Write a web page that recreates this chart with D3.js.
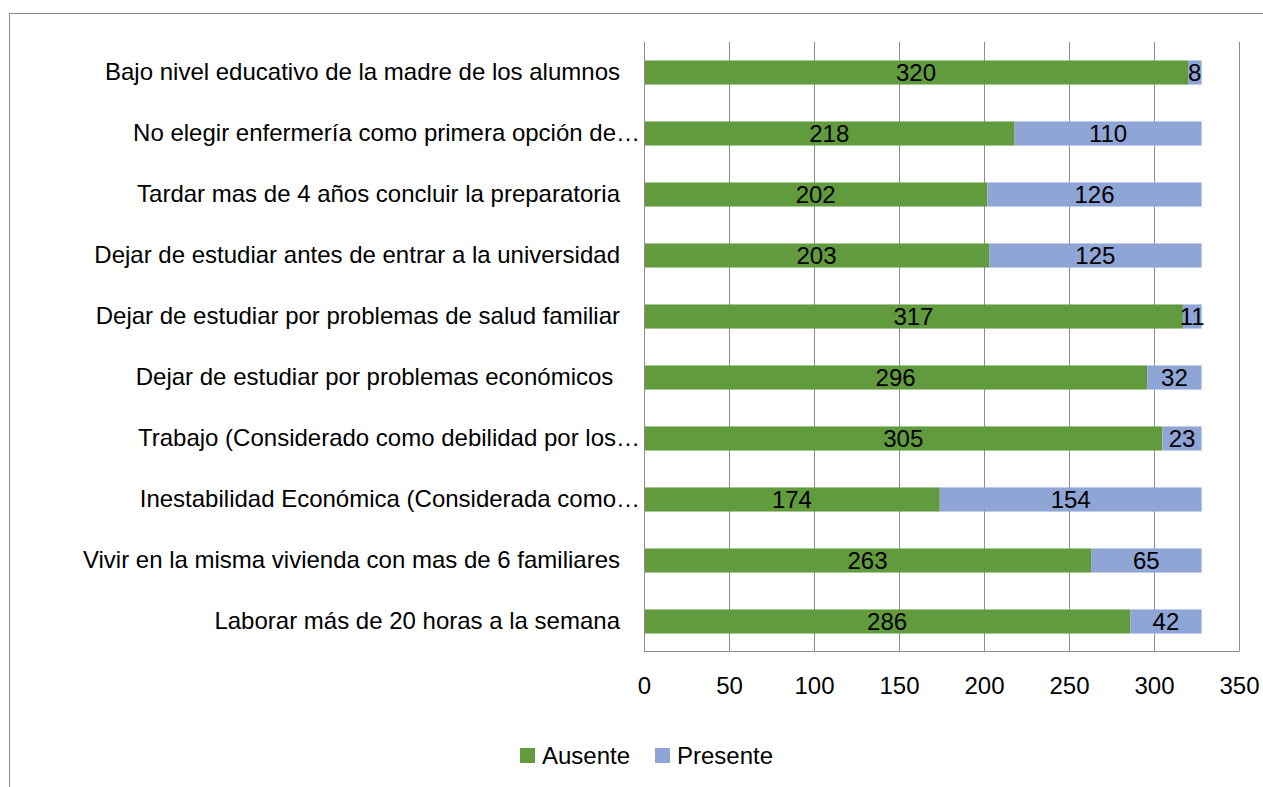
<!DOCTYPE html>
<html><head><meta charset="utf-8">
<script src="https://cdn.jsdelivr.net/npm/d3@7"></script>
<style>
html,body{margin:0;padding:0;background:#fff;}
svg text{font-family:"Liberation Sans",Arial,sans-serif;fill:#000;}
</style></head>
<body><svg id="c" width="1263" height="787"></svg>
<script>
const categories = [
  "Bajo nivel educativo de la madre de los alumnos   ",
  "No elegir enfermería como primera opción de…",
  "Tardar mas de 4 años concluir la preparatoria   ",
  "Dejar de estudiar antes de entrar a la universidad   ",
  "Dejar de estudiar por problemas de salud familiar   ",
  "Dejar de estudiar por problemas económicos    ",
  "Trabajo (Considerado como debilidad por los…",
  "Inestabilidad Económica (Considerada como…",
  "Vivir en la misma vivienda con mas de 6 familiares   ",
  "Laborar más de 20 horas a la semana   "
];
const ausente  = [320, 218, 202, 203, 317, 296, 305, 174, 263, 286];
const presente = [8, 110, 126, 125, 11, 32, 23, 154, 65, 42];
const seriesNames = ["Ausente", "Presente"];
const tickValues = [0, 50, 100, 150, 200, 250, 300, 350];
const colors = ["#629b3e", "#8fa5d6"];

const svg = d3.select("#c");
const fs = 24;
const nb = s => s.replace(/ /g, "\u00A0");

svg.append("rect").attr("x",9.5).attr("y",13.5).attr("width",1400).attr("height",900)
  .attr("fill","none").attr("stroke","#8a8a8a").attr("stroke-width",1);

const x = d3.scaleLinear().domain([0,350]).range([644,1239]);
const y = d3.scaleBand().domain(categories).range([42,652]).paddingInner(0.605).paddingOuter(0.3025);

// gridlines + tick labels
const gx = svg.append("g").attr("transform","translate(0,651.5)")
  .call(d3.axisBottom(x).tickValues(tickValues).tickSize(-609.5).tickFormat(d=>d).tickPadding(25));
gx.select(".domain").remove();
gx.selectAll(".tick line").attr("stroke","#8c8c8c").attr("stroke-width",1);
gx.selectAll(".tick text").attr("font-size",fs).attr("font-family","Liberation Sans").attr("fill","#000");
svg.append("line").attr("x1",x(0)).attr("x2",x(350)).attr("y1",651.5).attr("y2",651.5).attr("stroke","#8c8c8c");

// category axis
const gy = svg.append("g").attr("transform",`translate(${x(0)},0)`)
  .call(d3.axisLeft(y).tickSize(0).tickPadding(4).tickFormat(nb));
gy.select(".domain").attr("stroke","#8c8c8c");
gy.selectAll(".tick text").attr("font-size",fs).attr("font-family","Liberation Sans").attr("fill","#000");

const stackData = categories.map((c,i)=>({cat:c, Ausente:ausente[i], Presente:presente[i]}));
const stacked = d3.stack().keys(seriesNames)(stackData);

const layers = svg.append("g").selectAll("g").data(stacked).join("g").attr("fill",(d,i)=>colors[i]);
layers.selectAll("rect").data(d=>d).join("rect")
  .attr("x",d=>x(d[0])+ (d[0]===0?1:0)).attr("width",d=>x(d[1])-x(d[0]) - (d[0]===0?1:0))
  .attr("y",d=>y(d.data.cat)).attr("height",y.bandwidth());

const lab = svg.append("g");
stacked.forEach(layer=>{
  layer.forEach(d=>{
    lab.append("text").attr("x",(x(d[0])+x(d[1]))/2).attr("y",y(d.data.cat)+y.bandwidth()/2)
      .attr("dy","0.36em").attr("text-anchor","middle").attr("font-size",fs)
      .text(d[1]-d[0]);
  });
});

// legend
const leg = svg.append("g");
const legX = [520, 655];
seriesNames.forEach((s,i)=>{
  leg.append("rect").attr("x",legX[i]).attr("y",748).attr("width",15).attr("height",15).attr("fill",colors[i]);
  leg.append("text").attr("x",legX[i]+22).attr("y",755.5).attr("dy","0.36em").attr("font-size",fs).text(s);
});
</script></body></html>
